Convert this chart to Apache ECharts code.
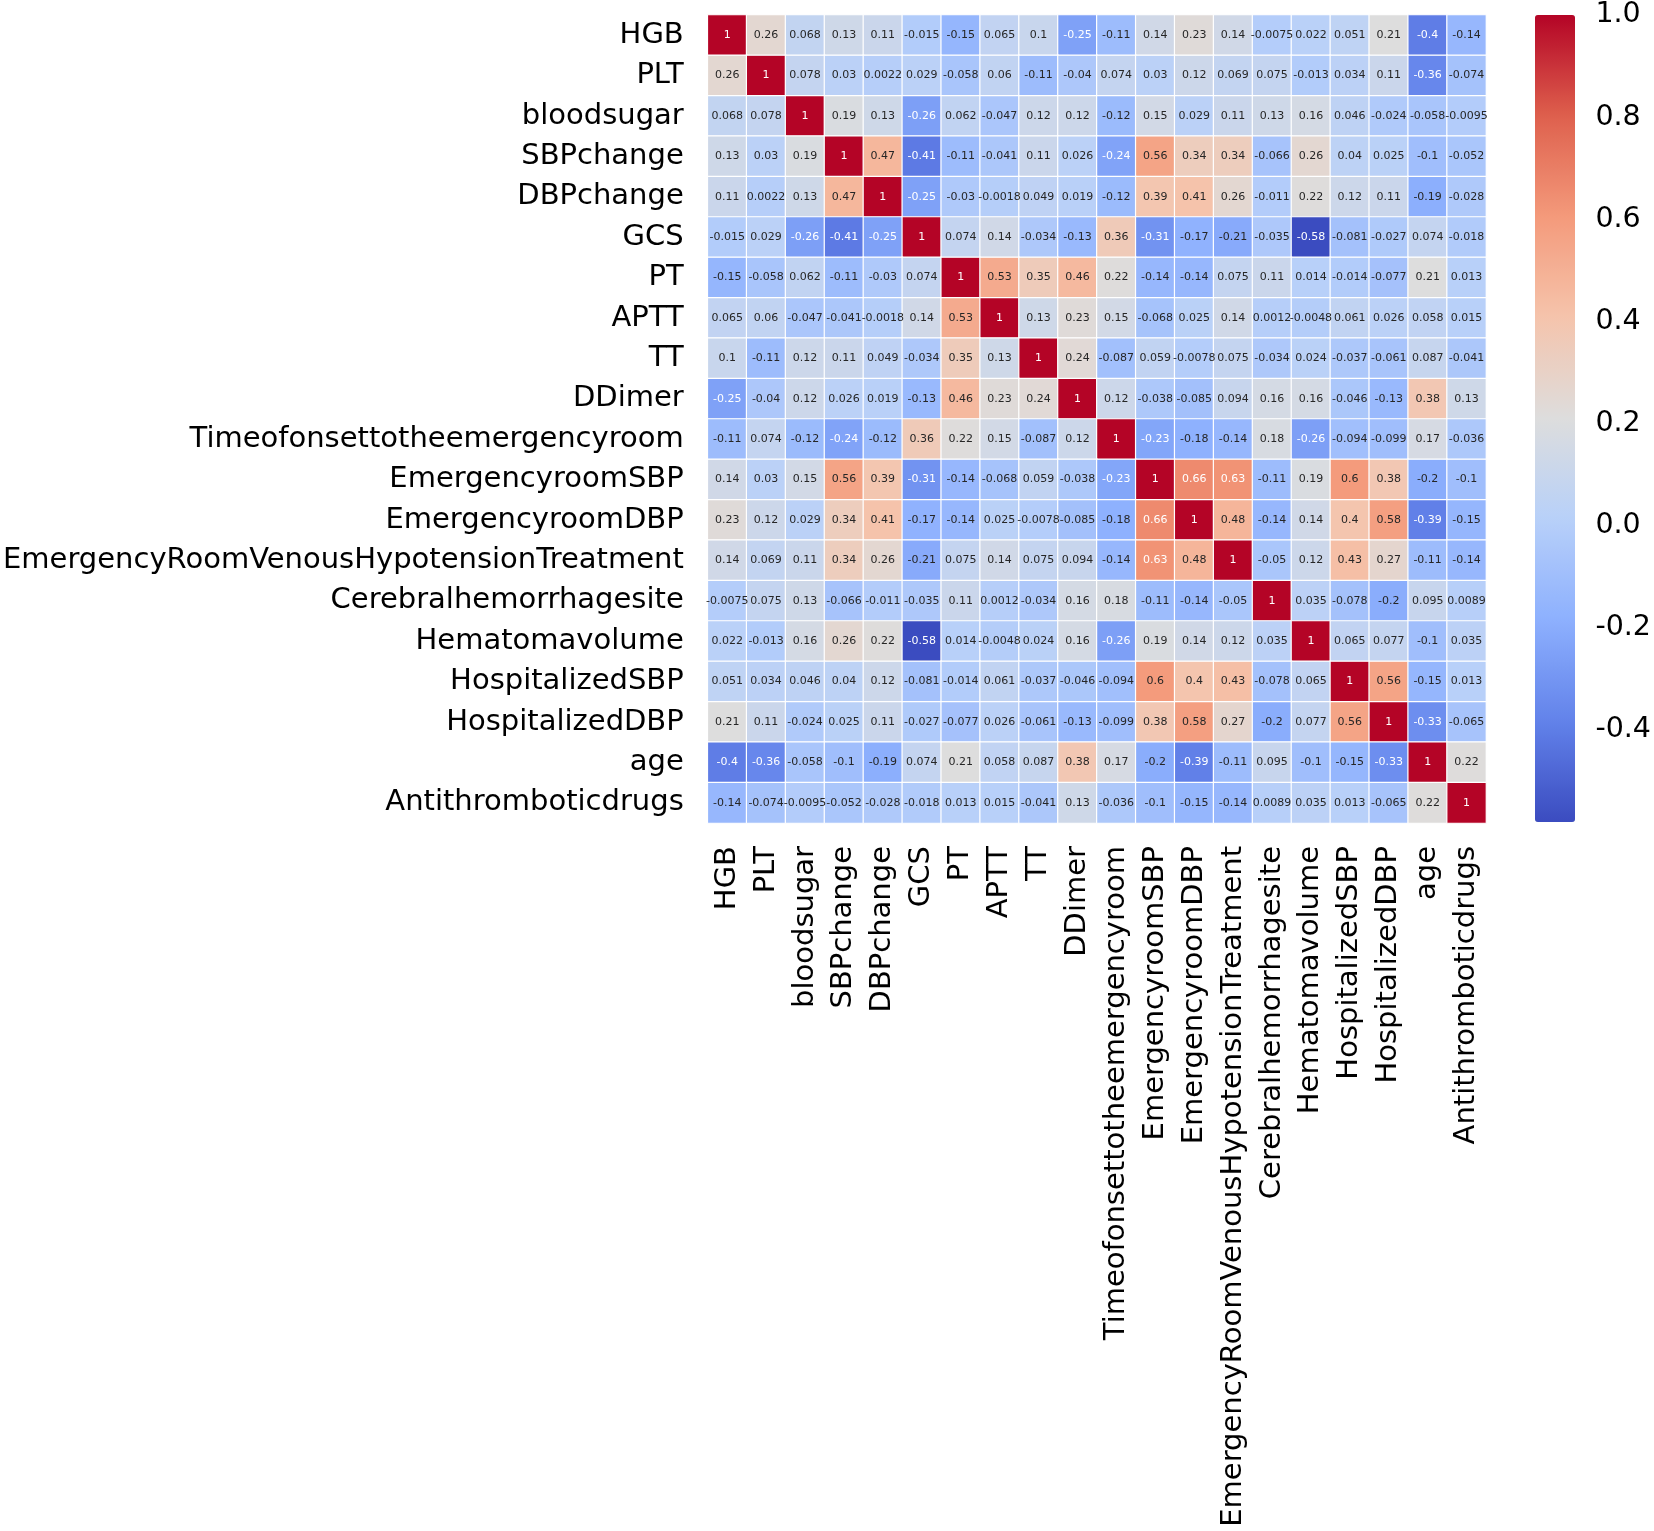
<!DOCTYPE html>
<html>
<head>
<meta charset="utf-8">
<script src="https://cdn.jsdelivr.net/npm/echarts@6/dist/echarts.min.js"></script>
<style>
html,body{margin:0;padding:0;background:#ffffff;}
#chart{width:1654px;height:1531px;}
</style>
</head>
<body>
<div id="chart"></div>
<script>
// ---- categories ----
const variables = ["HGB","PLT","bloodsugar","SBPchange","DBPchange","GCS","PT","APTT","TT","DDimer",
  "Timeofonsettotheemergencyroom","EmergencyroomSBP","EmergencyroomDBP","EmergencyRoomVenousHypotensionTreatment",
  "Cerebralhemorrhagesite","Hematomavolume","HospitalizedSBP","HospitalizedDBP","age","Antithromboticdrugs"];

// ---- correlation rows (one per variable) ----
const rowHGB        = [1, 0.26, 0.068, 0.13, 0.11, -0.015, -0.15, 0.065, 0.1, -0.25, -0.11, 0.14, 0.23, 0.14, -0.0075, 0.022, 0.051, 0.21, -0.4, -0.14];
const rowPLT        = [0.26, 1, 0.078, 0.03, 0.0022, 0.029, -0.058, 0.06, -0.11, -0.04, 0.074, 0.03, 0.12, 0.069, 0.075, -0.013, 0.034, 0.11, -0.36, -0.074];
const rowBloodsugar = [0.068, 0.078, 1, 0.19, 0.13, -0.26, 0.062, -0.047, 0.12, 0.12, -0.12, 0.15, 0.029, 0.11, 0.13, 0.16, 0.046, -0.024, -0.058, -0.0095];
const rowSBPchange  = [0.13, 0.03, 0.19, 1, 0.47, -0.41, -0.11, -0.041, 0.11, 0.026, -0.24, 0.56, 0.34, 0.34, -0.066, 0.26, 0.04, 0.025, -0.1, -0.052];
const rowDBPchange  = [0.11, 0.0022, 0.13, 0.47, 1, -0.25, -0.03, -0.0018, 0.049, 0.019, -0.12, 0.39, 0.41, 0.26, -0.011, 0.22, 0.12, 0.11, -0.19, -0.028];
const rowGCS        = [-0.015, 0.029, -0.26, -0.41, -0.25, 1, 0.074, 0.14, -0.034, -0.13, 0.36, -0.31, -0.17, -0.21, -0.035, -0.58, -0.081, -0.027, 0.074, -0.018];
const rowPT         = [-0.15, -0.058, 0.062, -0.11, -0.03, 0.074, 1, 0.53, 0.35, 0.46, 0.22, -0.14, -0.14, 0.075, 0.11, 0.014, -0.014, -0.077, 0.21, 0.013];
const rowAPTT       = [0.065, 0.06, -0.047, -0.041, -0.0018, 0.14, 0.53, 1, 0.13, 0.23, 0.15, -0.068, 0.025, 0.14, 0.0012, -0.0048, 0.061, 0.026, 0.058, 0.015];
const rowTT         = [0.1, -0.11, 0.12, 0.11, 0.049, -0.034, 0.35, 0.13, 1, 0.24, -0.087, 0.059, -0.0078, 0.075, -0.034, 0.024, -0.037, -0.061, 0.087, -0.041];
const rowDDimer     = [-0.25, -0.04, 0.12, 0.026, 0.019, -0.13, 0.46, 0.23, 0.24, 1, 0.12, -0.038, -0.085, 0.094, 0.16, 0.16, -0.046, -0.13, 0.38, 0.13];
const rowTimeOnset  = [-0.11, 0.074, -0.12, -0.24, -0.12, 0.36, 0.22, 0.15, -0.087, 0.12, 1, -0.23, -0.18, -0.14, 0.18, -0.26, -0.094, -0.099, 0.17, -0.036];
const rowERSBP      = [0.14, 0.03, 0.15, 0.56, 0.39, -0.31, -0.14, -0.068, 0.059, -0.038, -0.23, 1, 0.66, 0.63, -0.11, 0.19, 0.6, 0.38, -0.2, -0.1];
const rowERDBP      = [0.23, 0.12, 0.029, 0.34, 0.41, -0.17, -0.14, 0.025, -0.0078, -0.085, -0.18, 0.66, 1, 0.48, -0.14, 0.14, 0.4, 0.58, -0.39, -0.15];
const rowERVHT      = [0.14, 0.069, 0.11, 0.34, 0.26, -0.21, 0.075, 0.14, 0.075, 0.094, -0.14, 0.63, 0.48, 1, -0.05, 0.12, 0.43, 0.27, -0.11, -0.14];
const rowCerebral   = [-0.0075, 0.075, 0.13, -0.066, -0.011, -0.035, 0.11, 0.0012, -0.034, 0.16, 0.18, -0.11, -0.14, -0.05, 1, 0.035, -0.078, -0.2, 0.095, 0.0089];
const rowHematoma   = [0.022, -0.013, 0.16, 0.26, 0.22, -0.58, 0.014, -0.0048, 0.024, 0.16, -0.26, 0.19, 0.14, 0.12, 0.035, 1, 0.065, 0.077, -0.1, 0.035];
const rowHospSBP    = [0.051, 0.034, 0.046, 0.04, 0.12, -0.081, -0.014, 0.061, -0.037, -0.046, -0.094, 0.6, 0.4, 0.43, -0.078, 0.065, 1, 0.56, -0.15, 0.013];
const rowHospDBP    = [0.21, 0.11, -0.024, 0.025, 0.11, -0.027, -0.077, 0.026, -0.061, -0.13, -0.099, 0.38, 0.58, 0.27, -0.2, 0.077, 0.56, 1, -0.33, -0.065];
const rowAge        = [-0.4, -0.36, -0.058, -0.1, -0.19, 0.074, 0.21, 0.058, 0.087, 0.38, 0.17, -0.2, -0.39, -0.11, 0.095, -0.1, -0.15, -0.33, 1, 0.22];
const rowAntithromb = [-0.14, -0.074, -0.0095, -0.052, -0.028, -0.018, 0.013, 0.015, -0.041, 0.13, -0.036, -0.1, -0.15, -0.14, 0.0089, 0.035, 0.013, -0.065, 0.22, 1];

// ---- colour bar ticks ----
const colorbarTicks = [-0.4, -0.2, 0.0, 0.2, 0.4, 0.6, 0.8, 1.0];
const colorMin = -0.58, colorMax = 1.0;

const rows = [rowHGB,rowPLT,rowBloodsugar,rowSBPchange,rowDBPchange,rowGCS,rowPT,rowAPTT,rowTT,rowDDimer,
  rowTimeOnset,rowERSBP,rowERDBP,rowERVHT,rowCerebral,rowHematoma,rowHospSBP,rowHospDBP,rowAge,rowAntithromb];

// coolwarm colormap stops
const coolwarm = ["#3b4cc0","#6282ea","#8db0fe","#b8d0f9","#dddddd","#f5c4ac","#f49a7b","#de604d","#b40426"];

function hexToRgb(h){return [parseInt(h.substr(1,2),16),parseInt(h.substr(3,2),16),parseInt(h.substr(5,2),16)];}
function cmap(v){
  let t=(v-colorMin)/(colorMax-colorMin); t=Math.max(0,Math.min(1,t));
  const n=coolwarm.length-1; const p=t*n; let i=Math.floor(p); if(i>=n)i=n-1; const f=p-i;
  const a=hexToRgb(coolwarm[i]), b=hexToRgb(coolwarm[i+1]);
  return [0,1,2].map(k=>a[k]+(b[k]-a[k])*f);
}
function luminance(rgb){
  const c=rgb.map(x=>{x/=255;return x<=0.03928?x/12.92:Math.pow((x+0.055)/1.055,2.4);});
  return 0.2126*c[0]+0.7152*c[1]+0.0722*c[2];
}

const FONT = "DejaVu Sans";
const data = [];
rows.forEach((r, yi) => {
  r.forEach((v, xi) => {
    const lum = luminance(cmap(v));
    data.push({value:[xi, yi, v], label:{color: lum > 0.408 ? "#262626" : "#ffffff"}});
  });
});

const chart = echarts.init(document.getElementById("chart"), null, {renderer:"canvas"});
chart.setOption({
  animation:false,
  backgroundColor:"#ffffff",
  textStyle:{fontFamily:FONT},
  grid:[
    {left:706, top:15, width:780, height:808},
    {left:1535, top:15, width:40, height:807}
  ],
  xAxis:[
    {type:"category", data:variables, gridIndex:0, position:"bottom",
     axisLabel:{rotate:90, fontSize:29, margin:23, color:"#000", fontFamily:FONT, interval:0},
     axisTick:{show:false}, axisLine:{show:false}, splitLine:{show:false}},
    {type:"value", gridIndex:1, show:false, min:0, max:1}
  ],
  yAxis:[
    {type:"category", data:variables, gridIndex:0, inverse:true,
     axisLabel:{fontSize:29, margin:24, color:"#000", fontFamily:FONT, interval:0},
     axisTick:{show:false}, axisLine:{show:false}, splitLine:{show:false}},
    {type:"value", gridIndex:1, min:colorMin, max:colorMax, position:"right",
     axisLabel:{customValues:colorbarTicks, formatter:v=>v.toFixed(1), fontSize:28.5, margin:22, color:"#000", fontFamily:FONT},
     axisTick:{show:false}, axisLine:{show:false}, splitLine:{show:false}}
  ],
  visualMap:{
    type:"continuous", min:colorMin, max:colorMax, seriesIndex:0, calculable:false,
    orient:"vertical", left:1535, top:15, itemWidth:40, itemHeight:807, padding:0,
    inRange:{color:coolwarm}, hoverLink:false, realtime:false
  },
  series:[{
    type:"heatmap", xAxisIndex:0, yAxisIndex:0, data:data,
    label:{show:true, fontSize:11, fontFamily:FONT,
      formatter:p=>String(p.value[2])},
    itemStyle:{borderColor:"#ffffff", borderWidth:1.2},
    emphasis:{disabled:true}
  }]
});
</script>
</body>
</html>
